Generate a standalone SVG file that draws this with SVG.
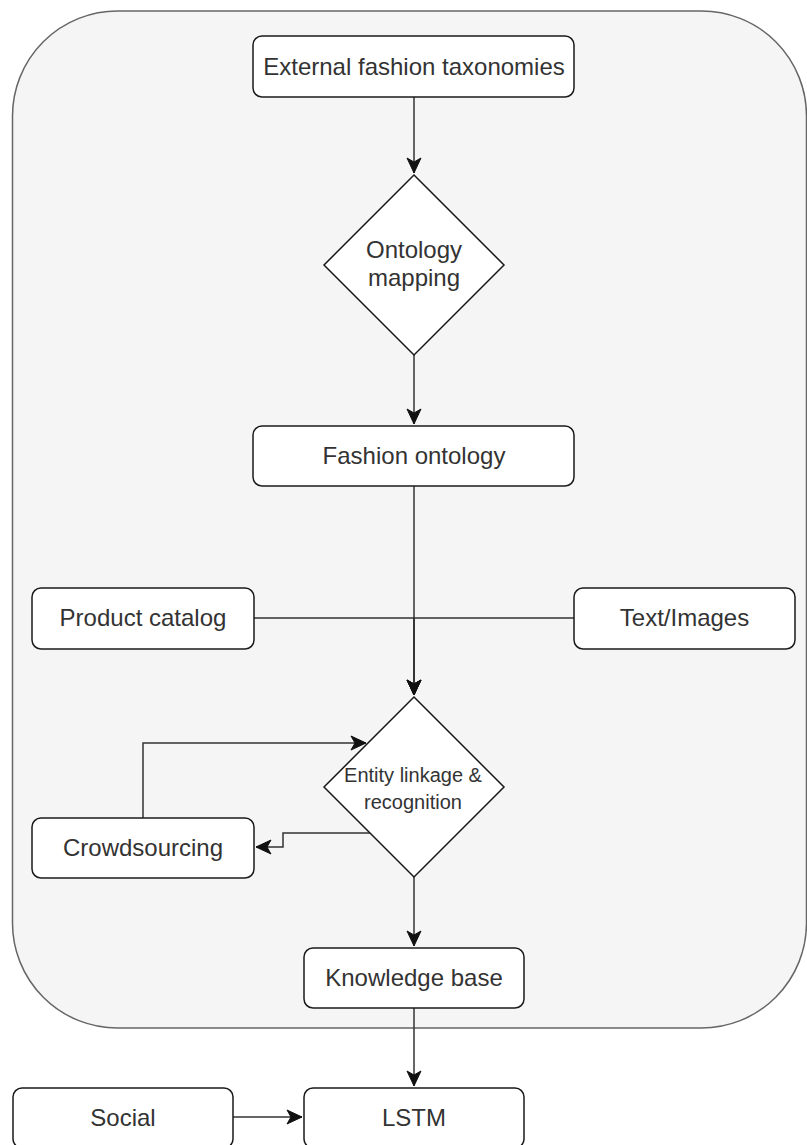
<svg xmlns="http://www.w3.org/2000/svg" width="807" height="1145" viewBox="0 0 807 1145">
  <style>
    .box { fill: #ffffff; stroke: #1a1a1a; stroke-width: 1.5; }
    .lbl { font-family: "Liberation Sans", Arial, sans-serif; font-size: 24px; fill: #333333; text-anchor: middle; }
    .sm { font-size: 20px; }
    .edge { fill: none; stroke: #333333; stroke-width: 1.5; }
  </style>
  <defs>
    <marker id="arr" markerUnits="userSpaceOnUse" markerWidth="18" markerHeight="16" viewBox="-16 -8 17 16" refX="0" refY="0" orient="auto">
      <path d="M0,0 L-15,-7 L-11,0 L-15,7 Z" fill="#111111" stroke="#111111" stroke-width="1"/>
    </marker>
  </defs>

  <g id="container">
    <rect x="12.5" y="11" width="794" height="1017" rx="105" ry="105" fill="#f5f5f5" stroke="#666666" stroke-width="1.5"/>
  </g>

  <g id="connectors">
    <path class="edge" d="M414,97 L414,173" marker-end="url(#arr)"/>
    <path class="edge" d="M414,355 L414,424" marker-end="url(#arr)"/>
    <path class="edge" d="M414,486 L414,695" marker-end="url(#arr)"/>
    <path class="edge" d="M254,618 L414,618 L414,695" marker-end="url(#arr)"/>
    <path class="edge" d="M574,618 L414,618 L414,695" marker-end="url(#arr)"/>
    <path class="edge" d="M143,818 L143,743 L366,743" marker-end="url(#arr)"/>
    <path class="edge" d="M370,833 L283,833 L283,847 L256,847" marker-end="url(#arr)"/>
    <path class="edge" d="M414,877 L414,946" marker-end="url(#arr)"/>
    <path class="edge" d="M414,1008 L414,1086" marker-end="url(#arr)"/>
    <path class="edge" d="M233,1117 L302,1117" marker-end="url(#arr)"/>
  </g>

  <g id="external-taxonomies">
    <rect class="box" x="253" y="36" width="321" height="61" rx="9"/>
    <text class="lbl" x="414" y="74.5">External fashion taxonomies</text>
  </g>

  <g id="ontology-mapping">
    <polygon class="box" points="414,175 504,265 414,355 324,265"/>
    <text class="lbl" x="414" y="258">Ontology</text>
    <text class="lbl" x="414" y="286">mapping</text>
  </g>

  <g id="fashion-ontology">
    <rect class="box" x="253" y="426" width="321" height="60" rx="9"/>
    <text class="lbl" x="414" y="463.5">Fashion ontology</text>
  </g>

  <g id="product-catalog">
    <rect class="box" x="32" y="588" width="222" height="61" rx="9"/>
    <text class="lbl" x="143" y="625.5">Product catalog</text>
  </g>

  <g id="text-images">
    <rect class="box" x="574" y="588" width="221" height="61" rx="9"/>
    <text class="lbl" x="684.5" y="625.5">Text/Images</text>
  </g>

  <g id="entity-linkage">
    <polygon class="box" points="414,697 504,787 414,877 324,787"/>
    <text class="lbl sm" x="413" y="782">Entity linkage &amp;</text>
    <text class="lbl sm" x="413" y="808.5">recognition</text>
  </g>

  <g id="crowdsourcing">
    <rect class="box" x="32" y="818" width="222" height="60" rx="9"/>
    <text class="lbl" x="143" y="855.5">Crowdsourcing</text>
  </g>

  <g id="knowledge-base">
    <rect class="box" x="304" y="948" width="220" height="60" rx="9"/>
    <text class="lbl" x="414" y="985.5">Knowledge base</text>
  </g>

  <g id="social">
    <rect class="box" x="13" y="1088" width="220" height="60" rx="9"/>
    <text class="lbl" x="123" y="1126">Social</text>
  </g>

  <g id="lstm">
    <rect class="box" x="304" y="1088" width="220" height="60" rx="9"/>
    <text class="lbl" x="414" y="1126">LSTM</text>
  </g>
</svg>
